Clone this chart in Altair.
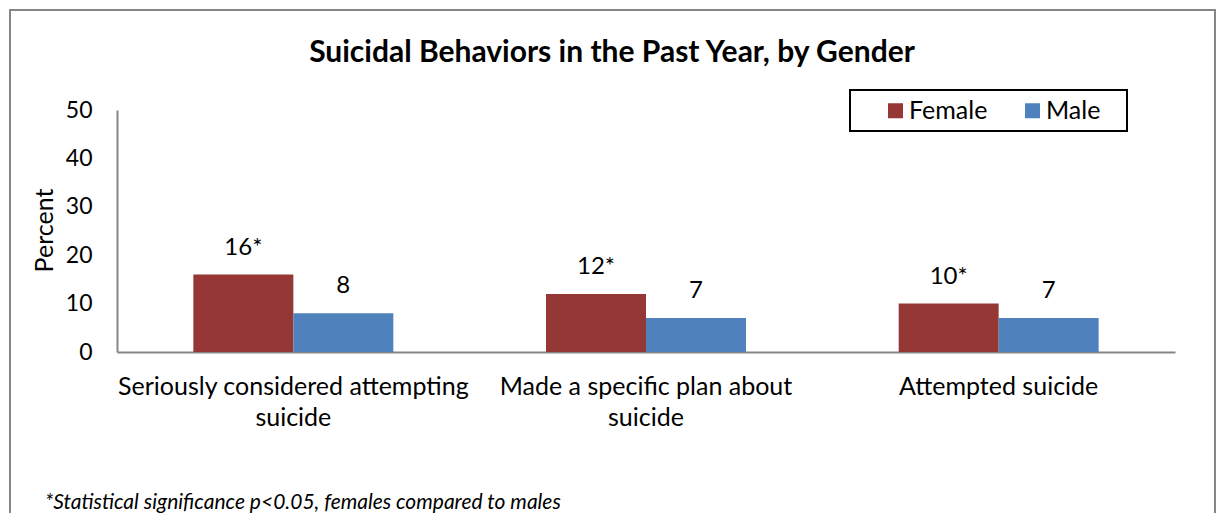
import altair as alt
import pandas as pd

categories = ["Seriously considered attempting\nsuicide", "Made a specific plan about\nsuicide", "Attempted suicide"]
genders = ["Female", "Male"]
female = [16, 12, 10]
male = [8, 7, 7]
female_labels = ["16*", "12*", "10*"]
male_labels = ["8", "7", "7"]
colors = ["#953735", "#4F81BD"]
y_ticks = [0, 10, 20, 30, 40, 50]
title_text = "Suicidal Behaviors in the  Past Year, by Gender"
footnote_text = "*Statistical significance p<0.05, females compared to males"

rows = []
for i, c in enumerate(categories):
    rows.append({"category": c, "gender": genders[0], "value": female[i], "label": female_labels[i]})
    rows.append({"category": c, "gender": genders[1], "value": male[i], "label": male_labels[i]})
df = pd.DataFrame(rows)

FONT = "Lato"
AXIS_GRAY = "#868686"

x = alt.X(
    "category:N", sort=categories, title=None,
    scale=alt.Scale(paddingInner=0.433, paddingOuter=0.2165),
    axis=alt.Axis(labelAngle=0, labelExpr="split(datum.label, '\\n')", labelFontSize=25,
                  labelLineHeight=31, labelPadding=22, ticks=False, tickSize=0,
                  domainColor=AXIS_GRAY, domainWidth=2, labelColor="black", labelFont=FONT,
                  labelLimit=0, labelOverlap=False),
)
y = alt.Y(
    "value:Q", scale=alt.Scale(domain=[0, 50], nice=False),
    axis=alt.Axis(values=y_ticks, grid=False, ticks=False, tickSize=0, labelPadding=25,
                  labelFontSize=23, labelFont=FONT, labelColor="black",
                  title="Percent", titleFont=FONT, titleFontWeight="normal", titleFontSize=25,
                  titleColor="black", titleAngle=-90, titleX=-65, titleY=120,
                  titleAlign="center", titleBaseline="alphabetic",
                  domainColor=AXIS_GRAY, domainWidth=2),
)
xo = alt.XOffset("gender:N", sort=genders)

base = alt.Chart(df)
bars = base.mark_bar().encode(
    x=x, xOffset=xo, y=y,
    color=alt.Color("gender:N", sort=genders, scale=alt.Scale(domain=genders, range=colors),
                    legend=alt.Legend(orient="none", legendX=766, legendY=-12, direction="horizontal",
                                      title=None, symbolType="square", symbolSize=225,
                                      symbolStrokeWidth=0, labelFontSize=25, labelFont=FONT,
                                      labelColor="black", columnPadding=32, labelOffset=1,
                                      padding=0)),
)
labels = base.mark_text(dy=-27, fontSize=24, font=FONT, color="black", baseline="middle").encode(
    x=x, xOffset=xo, y=y, text="label:N"
)

one = pd.DataFrame({"a": [0]})
frame = alt.Chart(one).mark_rect(fillOpacity=0, stroke=AXIS_GRAY, strokeWidth=2).encode(
    x=alt.value(-107), x2=alt.value(1098), y=alt.value(-100), y2=alt.value(600)
)
legend_box = alt.Chart(one).mark_rect(fillOpacity=0, stroke="black", strokeWidth=2).encode(
    x=alt.value(733), x2=alt.value(1010), y=alt.value(-20), y2=alt.value(21)
)
title = alt.Chart(one).mark_text(text=title_text, fontSize=30, fontWeight="bold", font=FONT,
                                 color="black", baseline="middle", align="center").encode(
    x=alt.value(495), y=alt.value(-57)
)
footnote = alt.Chart(one).mark_text(text=footnote_text, fontSize=21, fontStyle="italic", font=FONT,
                                    color="black", baseline="middle", align="left").encode(
    x=alt.value(-72), y=alt.value(393)
)

chart = alt.layer(frame, legend_box, bars, labels, title, footnote).properties(
    width=1058, height=242,
    padding={"left": 109, "top": 102, "right": 42, "bottom": 161},
    autosize=alt.AutoSizeParams(type="none"),
    background="white",
).configure_view(strokeWidth=0)

chart.save("out.html", embed_options={"renderer": "svg", "actions": False})
